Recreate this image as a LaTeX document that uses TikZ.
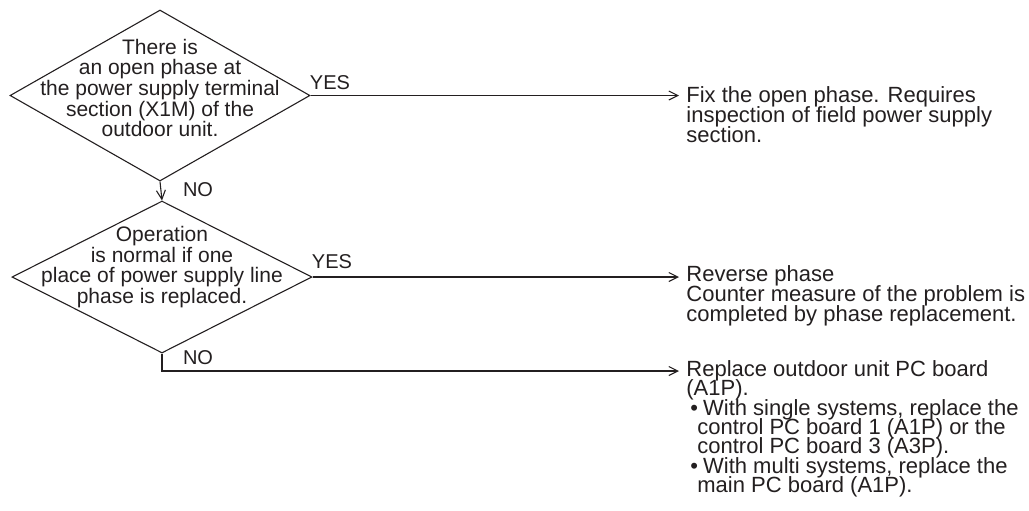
\documentclass[tikz,border=0pt]{standalone}
\usepackage{fontspec}
\setmainfont{Liberation Sans}
\usetikzlibrary{arrows.meta,shapes.geometric,positioning}
\definecolor{inkgray}{RGB}{35,31,32}
\newcommand{\tightlines}{\lineskip=0pt\lineskiplimit=-20pt}

\begin{document}
\begin{tikzpicture}[x=0.5pt,y=-0.5pt,
  qbox/.style={draw=inkgray,diamond,inner sep=0pt,line width=0.55pt,minimum width=150pt},
  qtext/.style={align=center,inner sep=0pt,text=inkgray,font=\fontsize{10.5}{10.35}\selectfont\tightlines},
  atext/.style={align=left,anchor=north west,inner sep=0pt,text=inkgray,font=\fontsize{11}{10.1}\selectfont\tightlines},
  yesno/.style={inner sep=0pt,text=inkgray,font=\fontsize{10}{12}\selectfont},
  arr/.style={draw=inkgray,line width=0.55pt,-{Straight Barb[length=4.5pt,width=4.5pt]},shorten >=3.5pt}]
\useasboundingbox (0,0) rectangle (1029,510);

\node[qbox,minimum height=85.5pt] (q1) at (160,95.5) {};
\node[qtext] (q1t) at (160,88) {There is\\an open phase at\\the power supply terminal\\section (X1M) of the\\outdoor unit.};
\node[qbox,minimum height=76pt] (q2) at (162,277) {};
\node[qtext] (q2t) at (162,267) {Operation\\is normal if one\\place of power supply line\\phase is replaced.};

\node[atext] (fix) at (686,86) {Fix the open phase. Requires\\inspection of field power supply\\section.};
\node[atext] (rev) at (686,265) {Reverse phase\\Counter measure of the problem is\\completed by phase replacement.};
\node[atext,font=\fontsize{11}{9.7}\selectfont\tightlines] (repl) at (686,360) {Replace outdoor unit PC board\\(A1P).\\
  \hspace*{2pt}\textbullet\hspace{2.5pt}With single systems, replace the\\
  \hspace*{5.5pt}control PC board 1 (A1P) or the\\
  \hspace*{5.5pt}control PC board 3 (A3P).\\
  \hspace*{2pt}\textbullet\hspace{2.5pt}With multi systems, replace the\\
  \hspace*{5.5pt}main PC board (A1P).};

\coordinate (nobend) at (162,371);
\draw[arr] (q1.east) -- (q1.east -| fix.west);
\draw[arr,shorten >=0pt] (q1.south) -- (q2.north);
\draw[arr] (q2.east) -- (q2.east -| rev.west);
\draw[arr] (q2.south) -- (nobend) -- (nobend -| repl.west);

\node[yesno] (yes1) at (330,83) {YES};
\node[yesno] (no1) at (198,190) {NO};
\node[yesno] (yes2) at (332,262) {YES};
\node[yesno] (no2) at (198,358) {NO};
\end{tikzpicture}
\end{document}
